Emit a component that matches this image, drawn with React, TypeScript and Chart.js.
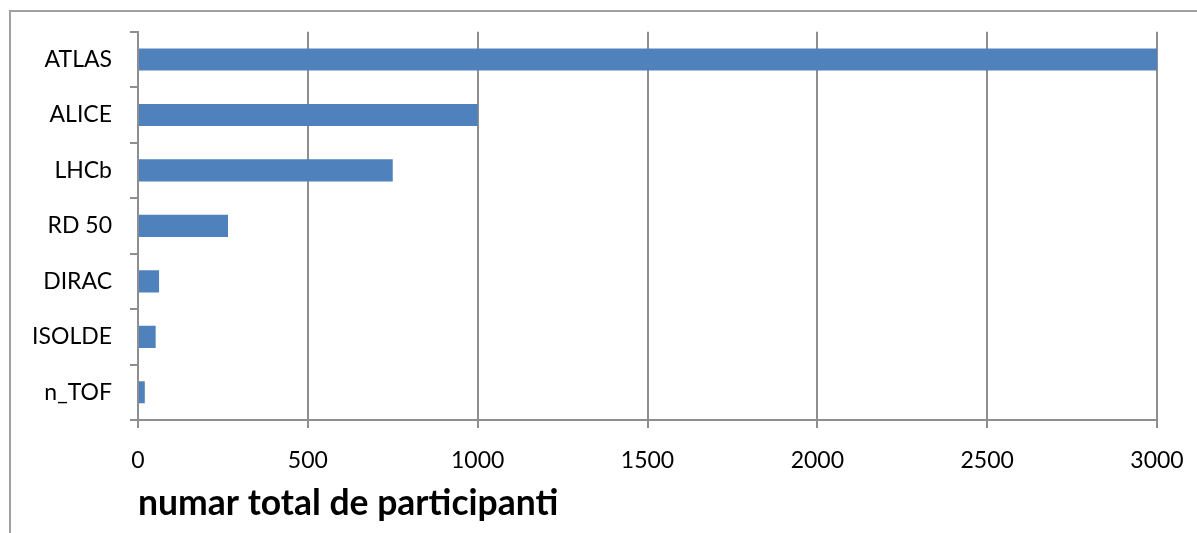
import React, { useEffect, useRef } from "react";
import { Chart, registerables } from "chart.js";

Chart.register(...registerables);

const categories = ["ATLAS", "ALICE", "LHCb", "RD 50", "DIRAC", "ISOLDE", "n_TOF"];
const participants = [3000, 1000, 750, 265, 62, 52, 20];
const xTicks = [0, 500, 1000, 1500, 2000, 2500, 3000];
const axisTitle = "numar total de participanti";

const FONT = "Lato, 'Open Sans', sans-serif";
const GRID = "#8e8e8e";

export default function App() {
  const ref = useRef<HTMLCanvasElement | null>(null);
  useEffect(() => {
    if (!ref.current) return;
    const chart = new Chart(ref.current, {
      type: "bar",
      data: {
        labels: categories,
        datasets: [
          {
            data: participants,
            backgroundColor: "#4F81BD",
            borderWidth: 0,
            categoryPercentage: 1,
            barPercentage: 0.4,
          },
        ],
      },
      options: {
        indexAxis: "y",
        animation: false,
        responsive: false,
        maintainAspectRatio: false,
        layout: { padding: { left: 0, right: 40, top: 30, bottom: 0 } },
        plugins: { legend: { display: false }, tooltip: { enabled: false } },
        scales: {
          x: {
            min: 0,
            max: 3000,
            afterBuildTicks: (s: any) => {
              s.ticks = xTicks.map((v) => ({ value: v }));
            },
            afterFit: (s: any) => {
              s.height = 113;
              s.paddingRight = 0;
              s.paddingLeft = 0;
            },
            grid: { color: GRID, lineWidth: 2, tickLength: 8, drawTicks: true },
            border: { display: true, color: GRID, width: 2 },
            ticks: {
              color: "#000",
              font: { family: FONT, size: 23 },
              padding: 19,
              maxRotation: 0,
              callback: (v: any) => String(v),
            },
            title: {
              display: true,
              text: axisTitle,
              align: "start",
              color: "#000",
              font: { family: FONT, size: 35.5, weight: "bold" },
              padding: { top: 0, bottom: 8 },
            },
          },
          y: {
            afterFit: (s: any) => {
              s.width = 138;
            },
            grid: { color: GRID, lineWidth: 2, tickLength: 8, drawOnChartArea: false, drawTicks: true, offset: true },
            border: { display: true, color: GRID, width: 2 },
            ticks: {
              color: "#000",
              font: { family: FONT, size: 23 },
              padding: 18,
            },
          },
        },
      },
    });
    return () => chart.destroy();
  }, []);

  return (
    <div>
      <div
        style={{
          position: "absolute",
          left: 9,
          top: 10,
          width: 1188,
          height: 523,
          borderTop: "2px solid #a0a0a0",
          borderLeft: "2px solid #a0a0a0",
          boxSizing: "border-box",
        }}
      />
      <canvas
        ref={ref}
        width={1197}
        height={533}
        style={{ position: "absolute", left: 0, top: 0, width: 1197, height: 533 }}
      />
    </div>
  );
}
